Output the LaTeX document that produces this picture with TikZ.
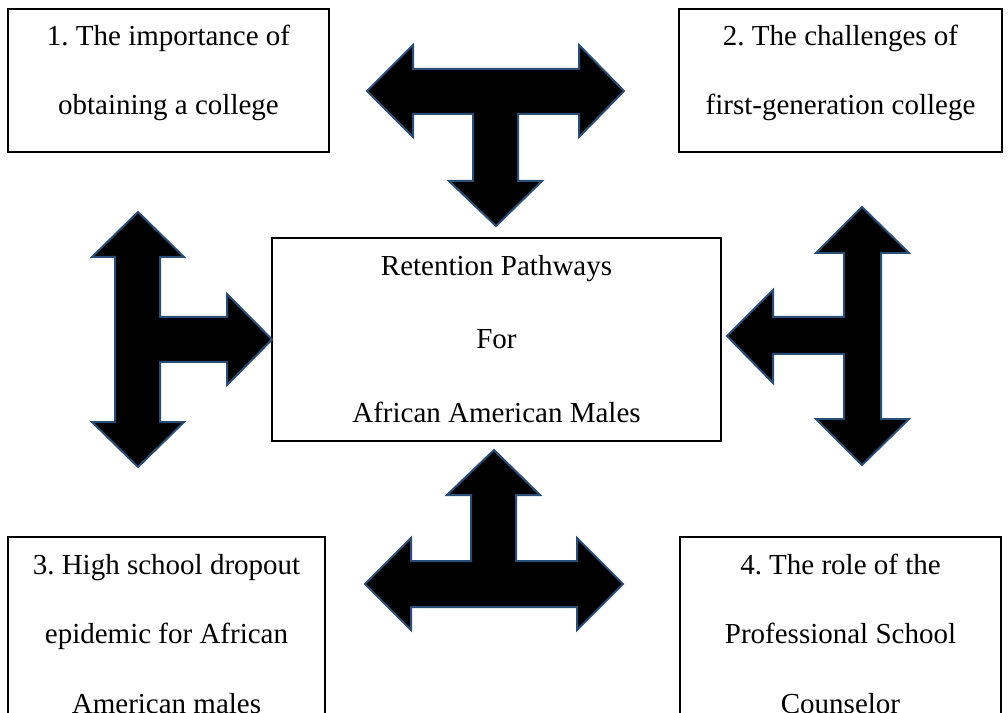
\documentclass[tikz,border=0pt]{standalone}
\usepackage{fontspec}
\setmainfont{Liberation Serif}
\usetikzlibrary{positioning}
\frenchspacing
\definecolor{arrowblue}{RGB}{40,78,120}
\tikzset{
  box/.style={draw, line width=1.4pt, inner sep=0pt},
  boxtext/.style={align=center, anchor=base, font=\fontsize{21.75pt}{52pt}\selectfont},
  coretext/.style={align=center, anchor=base, font=\fontsize{21.75pt}{55pt}\selectfont},
  blockarrow/.style={fill=black, draw=arrowblue, line width=1.5pt, line join=miter}
}
\begin{document}
\begin{tikzpicture}[x=0.75pt, y=-0.75pt]
  \useasboundingbox (0,0) rectangle (1008,713);
  \clip (0,0) rectangle (1008,713);
  % the five boxes
  \node[box, minimum width=240.75pt, minimum height=107.25pt] (imp) at (168.5,80.5) {};
  \node[box, minimum width=242.25pt, minimum height=107.25pt] (chal) at (840.5,80.5) {};
  \node[box, minimum width=336.75pt, minimum height=152.25pt] (core) at (496.5,339.5) {};
  \node[box, minimum width=237.75pt, minimum height=167.25pt] (drop) at (166.5,648.5) {};
  \node[box, minimum width=240.75pt, minimum height=167.25pt] (role) at (840.5,648.5) {};
  % texts, placed by the baseline of their last line
  \node[boxtext] (imptext) at (168.5,115) {1. The importance of\\obtaining a college};
  \node[boxtext] (chaltext) at (840.5,115) {2. The challenges of\\first-generation college};
  \node[coretext] (coretext) at (496.5,422) {Retention Pathways\\For\\African American Males};
  \node[boxtext] (droptext) at (166.5,713) {3. High school dropout\\epidemic for African\\American males};
  \node[boxtext] (roletext) at (840.5,713) {4. The role of the\\Professional School\\Counselor};
  % block arrows
  \draw[blockarrow] (367,91) -- (413,45) -- (413,69) -- (579,69) -- (579,45) -- (624,91)
    -- (579,137) -- (579,114) -- (518,114) -- (518,181) -- (542,181) -- (496,226)
    -- (449,181) -- (473,181) -- (473,114) -- (413,114) -- (413,137) -- cycle;
  \draw[blockarrow] (138,212) -- (184,257) -- (160,257) -- (160,317) -- (227,317) -- (227,294)
    -- (272,339.5) -- (227,385) -- (227,362) -- (160,362) -- (160,422) -- (184,422)
    -- (138,467) -- (92,422) -- (115,422) -- (115,257) -- (92,257) -- cycle;
  \draw[blockarrow] (862,207) -- (909,253) -- (881,253) -- (881,419) -- (909,419) -- (862,465)
    -- (816,419) -- (844,419) -- (844,354) -- (773,354) -- (773,383) -- (727,336)
    -- (773,290) -- (773,317) -- (844,317) -- (844,253) -- (816,253) -- cycle;
  \draw[blockarrow] (494,450) -- (540,495) -- (516,495) -- (516,561) -- (577,561) -- (577,538)
    -- (623,584) -- (577,630) -- (577,607) -- (411,607) -- (411,630) -- (365,584)
    -- (411,538) -- (411,561) -- (471,561) -- (471,495) -- (447,495) -- cycle;
\end{tikzpicture}
\end{document}
